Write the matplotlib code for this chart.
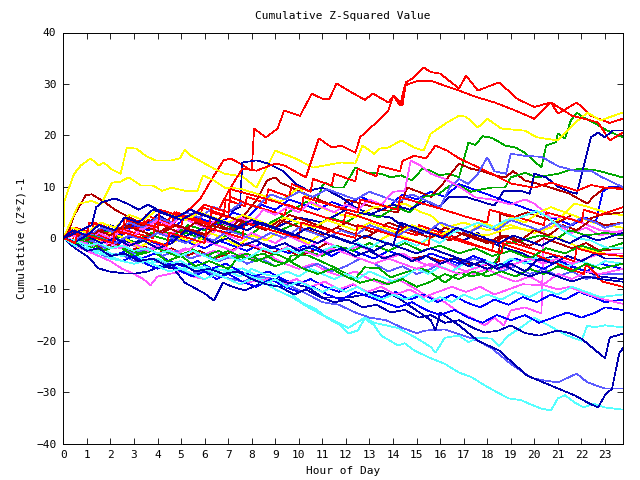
import matplotlib
matplotlib.use("Agg")
import matplotlib.pyplot as plt

# ---- colours (gnuplot-like palette) ----
RED = '#ff0000'
DRED = '#b00000'
GREEN = '#00a800'
BLUE = '#0000ff'
NAVY = '#0000b0'
LBLUE = '#5a5aff'
MAG = '#ff55ff'
CYAN = '#55ffff'
YEL = '#ffff00'

# ---- axis text ----
title = "Cumulative Z-Squared Value"
xlabel = "Hour of Day"
ylabel = "Cumulative (Z*Z)-1"
xticks = list(range(0, 24))
yticks = [-40, -30, -20, -10, 0, 10, 20, 30, 40]

# ---- series: (hour, cumulative value) ----
red_a = [(0,0),(0.5,1.5),(1,-0.5),(1.6,1.5),(2.2,0.5),(2.8,2.5),(3.4,1.5),(4,3.5),(4.6,2.5),(5.2,5),(5.8,7.5),
         (6.35,11.8),(6.8,15.1),(7.1,15.5),(7.5,14.5),(8.0,13.1),(8.1,21.3),(8.6,19.6),(9.1,21.3),(9.37,24.8),
         (10.05,23.8),(10.55,28.1),(11,27.1),(11.3,27.1),(11.6,30.1),(12.1,28.7),(12.8,26.9),(13.15,28.1),
         (13.8,26.4),(14.05,27.7),(14.4,25.8),(14.55,30.3),(14.9,31.3),(15.3,33.2),(15.6,32.3),(16.0,32.0),
         (16.8,29.1),(17.1,31.6),(17.6,28.7),(18.5,30.3),(19.3,27.0),(20.0,25.5),(20.7,26.4),(21.0,24.2),
         (21.8,26.4),(22.4,23.8),(23.2,22.4),(23.75,23.2)]
red_b = [(0,0),(0.6,-1),(1.2,1),(1.8,0),(2.4,2),(3,1),(3.6,3.5),(4.2,2.5),(4.8,5),(5.4,4),(6,6.5),(6.6,5.5),
         (7.0,9),(7.6,13.5),(8.2,13.1),(9.0,14.5),(9.4,14.1),(10.3,11.8),(10.85,19.4),(11.4,17.6),(11.8,18.0),
         (12.4,16.6),(12.6,19.6),(12.9,20.9),(13.4,22.9),(13.8,24.8),(14.0,27.7),(14.3,25.8),(14.5,29.7),
         (15.0,30.5),(15.6,30.6),(16.8,28.7),(17.5,27.5),(18.3,26.4),(19.2,24.8),(20.0,23.2),(20.7,26.4),
         (21.6,23.8),(22.7,22.5),(23.2,19.0),(23.75,20.5)]
red_c = [(0,0),(0.4,-0.8),(0.5,2),(1.2,1),(1.3,3),(2,1.8),(2.6,0.8),(2.7,3.5),(3.4,2.5),(3.5,4.5),(4.3,3),(5,2),
         (5.1,4.5),(5.8,3.5),(5.9,6),(6.8,4.5),(6.9,7.5),(7.7,6.2),(7.8,8),(8.6,6.8),(8.7,9.5),(9.6,8),(9.7,10.5),
         (10.5,9),(10.6,11.5),(11.4,10.2),(11.5,12.5),(12.4,11),(12.5,13.5),(13.3,12),(13.4,14),(14.3,13),
         (14.4,15),(14.9,16),(15.4,15.5),(15.8,18),(16.3,17),(16.8,15.5),(17.5,14),(18.2,12.5),(19,10.6),
         (20,9.8),(20.7,10.8),(21.8,9.2),(22.4,10.3),(23,9.8),(23.75,9.5)]
red_d = [(0,0),(0.6,-1),(0.7,1.5),(1.5,0.5),(2.2,-0.5),(2.3,2),(3,1),(3.8,0),(3.9,3),(4.6,2),(4.7,5),(5.5,3.8),
         (6.2,2.8),(6.3,6),(7,5),(7.1,8),(7.9,6.5),(8.6,5.5),(9.4,4.5),(9.5,6.5),(10.3,5.2),(11.1,4),(11.9,3),
         (12,5),(12.8,3.8),(13.6,2.5),(14.3,1.5),(15,0.5),(15.1,2.5),(15.9,1.2),(16.7,0),(17.4,-1.2),(18.2,-2.5),
         (18.3,-0.5),(19.1,-1.8),(19.9,-3),(20.7,-4.5),(21.4,-5.8),(22.1,-7),(22.2,-5),(22.9,-8.5),(23.75,-9.5)]
red_e = [(0,0),(0.3,1.5),(1,0.5),(1.1,3),(1.9,2),(2.5,1),(2.6,4),(3.3,3),(4,2),(4.1,5.5),(4.8,4.5),(5.5,3.5),
         (6.2,2.5),(6.3,5),(7,4),(7.1,9.5),(7.9,8.5),(8.7,7.5),(9.4,6.5),(10.1,5.5),(10.2,8),(10.9,7),(11.7,6),
         (12.5,5),(12.6,7.5),(13.4,6.5),(14.2,5.5),(14.3,8),(15,7),(15.8,6),(16.5,5),(17.2,4),(18,3),(18.1,5.5),
         (18.9,4.5),(19.7,3.5),(20.4,2.5),(20.5,5),(21.3,4),(22,3),(22.1,5.5),(22.8,4.5),(23.75,6)]
red_f = [(0,0),(0.5,-1),(0.6,1),(1.4,0),(2.1,-1),(2.2,1.5),(3,0.5),(3.7,-0.5),(4.4,-1.5),(4.5,1),(5.3,0),(6,-1),
         (6.1,2),(6.9,1),(7.6,0),(7.7,3),(8.5,2),(9.2,1),(10,0),(10.1,3),(10.9,2),(11.6,1),(12.4,0),(12.5,2.5),
         (13.3,1.5),(14,0.5),(14.8,-0.5),(15.5,-1.5),(15.6,1),(16.4,0),(17.1,-1),(17.9,-2),(18.6,-3),(18.7,-0.5),
         (19.5,-1.5),(20.2,-2.5),(21,-3.5),(21.7,-4.5),(21.8,-2),(22.6,-3),(23.75,-3.5)]
dred_a = [(0,0),(0.2,1),(0.46,4.4),(0.95,8.3),(1.2,8.5),(1.65,7.3),(2.2,5.5),(2.8,4),(3.4,2.8),(4,1.5),(4.1,3.5),
          (4.8,2.5),(5.5,1.5),(6.2,0.5),(6.3,2.5),(7,1.5),(7.6,4),(8.2,7.3),(8.65,11.2),(9,11.8),(9.2,10.8),
          (9.7,9.8),(10.4,8.3),(11.25,6.7),(11.9,5.5),(12,7.5),(12.8,6.5),(13.5,5.5),(14.2,5),(14.6,9.8),
          (15.1,9),(15.6,8),(16.2,11),(16.8,14.5),(17.3,13.5),(17.8,13),(18.3,12.2),(18.75,11.8),(19.1,13),
          (19.6,11.2),(20.1,10.6),(20.7,9.8),(21.5,8.6),(22.25,6.7),(22.5,8),(23,9.8),(23.75,9.8)]
dred_b = [(0,0),(0.5,-1),(1,-0.5),(1.6,-2),(2.2,-1),(2.8,-2.5),(3.4,-1.5),(4,-3),(4.6,-2),(5.2,-3.5),(5.8,-2.5),
          (6.4,-4),(7,-3),(7.6,-1),(8.2,-2),(8.8,-3),(9.4,-2),(10,-3.5),(10.6,-2.5),(11.2,-1),(11.8,-2),
          (12.4,-3.5),(13,-2.5),(13.6,-4),(14.2,-3),(14.8,-4),(15.4,-3.5),(16,-4.5),(16.6,-4),(17.2,-5),
          (17.8,-5.4),(18.5,-4.5),(18.55,4.7),(19.1,4),(19.7,5),(20.3,4),(21,3),(21.6,4.5),(22.2,3.5),
          (22.8,4.5),(23.75,5)]
dred_c = [(0,0),(0.6,1),(1.2,0),(1.8,2),(2.4,1),(3,3),(3.6,2),(4.2,1),(4.8,2.5),(5.4,1.5),(6,0.5),(6.6,2.5),
          (7.2,1.5),(7.8,4),(8.4,3),(9,2),(9.6,4.5),(10.2,3.5),(10.8,2.5),(11.4,1.5),(12,3),(12.6,2),(13.2,1),
          (13.8,3),(14.4,2),(15,1),(15.6,0),(16.2,2),(16.8,1),(17.4,0),(18,-1),(18.6,0.5),(19.2,-0.5),
          (19.8,-1.5),(20.4,0),(21,-1),(21.6,-2),(22.2,-1),(22.8,-2.5),(23.75,-2)]
dred_d = [(0,0),(0.5,0.8),(1,-0.5),(1.5,1.5),(2,0.5),(2.6,2.5),(3.2,1.5),(3.8,0.5),(4.4,2),(5,1),(5.6,3),(6.2,2),
          (6.8,4.5),(7.4,3.5),(8,2.5),(8.6,1.5),(9.2,3.5),(9.8,2.5),(10.4,1.5),(11,0.5),(11.6,2),(12.2,1),
          (12.8,0),(13.4,1.5),(14,0.5),(14.6,2.5),(15.2,1.5),(15.8,0.5),(16.4,-0.5),(17,1),(17.6,0),(18.2,-1),
          (18.8,0.5),(19.4,-0.5),(20,1.5),(20.6,0.5),(21.2,2.5),(21.8,1.5),(22.4,3.5),(23,2.5),(23.75,3)]
yel_a = [(0,0),(0.05,7.3),(0.46,12.5),(0.74,14.1),(1.16,15.5),(1.5,14.1),(1.72,14.7),(2.0,13.5),(2.43,12.5),
         (2.7,17.6),(3.1,17.4),(3.5,16.0),(3.9,15.1),(4.6,15.1),(4.95,15.5),(5.16,17.2),(5.43,16.0),(6.0,14.5),
         (6.4,13.5),(6.85,12.5),(7.6,12.0),(8.2,9.8),(9.0,17.0),(9.85,15.5),(10.6,13.7),(11.8,14.7),(12.4,14.5),
         (12.7,18.0),(13.2,16.4),(13.4,17.4),(13.8,17.6),(14.35,19.0),(14.9,17.6),(15.3,17.0),(15.6,20.3),
         (16.3,22.5),(16.8,23.8),(17.1,23.6),(17.6,21.5),(18.0,23.2),(18.6,21.3),(19.6,20.9),(20.1,19.6),
         (21.0,19.0),(21.7,22.3),(22.25,24.4),(22.8,22.9),(23.75,24.4)]
yel_b = [(0,0),(0.67,6.7),(1.2,7.2),(1.6,6.5),(2.07,10.8),(2.4,10.9),(2.78,11.8),(3.3,10.2),(3.8,10.2),(4.2,9.2),
         (4.6,9.8),(5.16,9.2),(5.7,9.2),(5.93,12.2),(6.4,11.2),(6.85,9.8),(7.5,9.6),(8.45,8.3),(9.2,7.0),
         (10.0,9.8),(10.6,6.5),(11.2,5.5),(11.8,4.5),(12.4,4.0),(13.2,6),(14.5,6.7),(15.2,5),(15.6,4.4),(16.2,2),
         (17,3),(18,1.5),(19,2.5),(20,1),(20.7,2),(21.7,6.7),(22.2,6.2),(23,5),(23.75,4.4)]
yel_c = [(0,0),(0.5,-1),(1,0.5),(1.5,-0.5),(2,1),(2.6,0),(3.2,-1.8),(3.8,-0.5),(4.4,-1.5),(5,0),(5.6,-1),(6.2,1),
         (6.8,0),(7.4,-1.5),(8,0.5),(8.6,-0.5),(9.2,1.5),(9.8,0.5),(10.4,-1),(11,1),(11.6,0),(12.2,-1),(12.8,0.5),
         (13.4,-0.5),(14,1),(14.6,0),(15.2,-1),(15.8,0.5),(16.4,-0.5),(17,1),(18,0.5),(19,2),(20,1.5),(21,0),
         (22,-2),(23,-3),(23.75,-3.7)]
yel_d = [(0,0),(0.4,2),(1,1),(1.6,3),(2.2,2),(2.8,4.5),(3.4,3.5),(4,5.5),(4.6,4.5),(5.2,3.5),(5.8,5),(6.4,4),(7,3),
         (7.6,4.5),(8.2,3.5),(8.8,2.5),(9.4,4),(10,3),(10.6,2),(11.2,3.5),(11.8,2.5),(12.4,1.5),(13,3),(13.6,2),
         (14.2,1),(14.8,2.5),(15.4,1.5),(16,0.5),(16.6,2),(17.2,1),(17.8,3),(18.4,2),(19,4),(19.6,3),(20.2,5),
         (20.7,6),(21.3,5),(21.9,4),(22.5,3),(23,2.5),(23.75,2)]
grn_a = [(0,0),(0.7,-1.5),(1.3,0.5),(2,-1),(2.6,1),(3.3,0),(4,1.5),(4.7,0.5),(5.3,2.5),(6,1.5),(6.6,3),(7.2,2),
         (8,3.5),(8.6,2.5),(9.2,4),(9.7,5.4),(10.3,7.0),(10.7,6.5),(11,10.2),(11.1,10.8),(11.5,9.8),(11.9,9.8),
         (12.4,13.7),(12.9,12.7),(13.5,12.5),(13.9,11.8),(14.35,12.2),(14.8,11.2),(15.25,13.5),(15.6,13.1),
         (15.95,12.2),(16.4,12.5),(16.8,11.8),(17.2,18.6),(17.5,18.1),(17.8,19.8),(18.2,19.5),(18.75,18.0),
         (19.2,17.6),(19.6,16.6),(20.3,13.7),(20.5,18.0),(20.9,18.6),(21.0,20.3),(21.3,19.4),(21.55,22.9),
         (21.8,24.4),(22.1,23.4),(22.5,22.5),(23.1,20.9),(23.75,19.6)]
grn_b = [(0,0),(0.6,1),(1.2,-0.5),(1.9,1.5),(2.5,0),(3.2,-1),(3.8,0.5),(4.5,-0.5),(5.2,1),(5.8,0),(6.5,-1),
         (7.2,1.5),(7.9,0.5),(8.5,2.5),(9.2,1.5),(10,3),(10.7,2),(11.3,4),(12,3),(12.7,5),(13.4,4),(14.1,6),
         (14.7,5),(15.3,8),(15.95,8.6),(16.4,10.2),(16.8,10.2),(17.3,9),(17.8,9.5),(18.2,9.8),(18.75,9.8),
         (19.0,11.8),(19.6,12.7),(20.1,11.8),(21.0,12.5),(21.4,13.1),(22.0,13.5),(22.7,13.1),(23.75,11.8)]
grn_c = [(0,0),(0.8,-1),(1.6,-2.5),(2.4,-1.5),(3.2,-3),(4,-2),(4.8,-3.5),(5.5,-2.5),(6.3,-4),(7,-2.5),(7.7,-4),
         (8.5,-3),(9.0,-4.5),(9.4,-5),(9.7,-3.4),(10.4,-3.4),(11.5,-5.7),(12.4,-7.9),(12.8,-5.7),(13.4,-5.9),
         (13.9,-7.7),(14.5,-6.7),(15.2,-5.9),(15.6,-6.7),(16.2,-8.7),(16.8,-6.7),(17.3,-7.5),(17.8,-7),
         (18.2,-5.9),(18.75,-1.1),(19.5,-0.5),(20.2,0.5),(21,0),(21.5,1.5),(22.2,0.5),(23,1),(23.75,0.5)]
grn_d = [(0,0),(0.5,-1.5),(1,-0.5),(1.7,-2.5),(2.3,-1.5),(3,-3.5),(3.8,-2.5),(4.4,-4.5),(5,-3.5),(5.6,-5.5),
         (6.2,-4.5),(7,-6),(7.5,-3.5),(8.2,-4.5),(9,-3),(9.7,-4.5),(10.3,-2.5),(11,-3.5),(11.6,-1.5),(12.3,-2.5),
         (13,-1),(13.8,-2.5),(14.5,-1),(15.2,-2.5),(16,-1.5),(16.8,-3),(17.5,-2),(18.2,-3.5),(19,-2.5),
         (19.8,-4),(20.5,-2),(21.3,-3),(22,-1.5),(22.7,-2.5),(23.75,-1)]
grn_e = [(0,0),(0.6,-1),(1.2,0.5),(1.8,-0.5),(2.4,-2),(3,-1),(3.6,-2.5),(4.2,-1.5),(4.8,-3),(5.4,-2),(6,-3.5),
         (6.6,-2.5),(7.2,-4),(7.8,-3),(8.4,-4.5),(9,-5.5),(9.6,-4.5),(10.2,-6),(10.8,-7),(11.4,-6),(12,-7.5),
         (12.6,-8.7),(13.2,-8),(13.8,-9),(14.4,-8),(15,-9.5),(15.6,-8.5),(16.2,-7),(16.8,-8),(17.4,-6.5),
         (18,-7.5),(18.6,-6.5),(19.2,-7.5),(19.8,-6),(20.4,-7),(21,-5.5),(21.6,-6.5),(22.2,-5),(22.8,-6),(23.75,-5)]
navy_a = [(0,0),(0.5,-1),(1,1),(1.5,0),(2,2.5),(2.5,1.5),(3,3.5),(3.5,2.5),(4,4.5),(4.6,3),(5.2,5),(5.8,4),
          (6.4,6),(7,5),(7.5,6),(7.6,14.7),(8.2,15.1),(8.7,14.5),(9.3,13.1),(9.85,10.6),(10.4,9.2),(11,9.8),
          (11.8,7.9),(12.4,5.9),(13.2,4.4),(13.9,4),(14.5,2),(15.2,0.9),(15.8,2),(16.4,0.5),(17,-0.5),(17.6,1),
          (18.2,-1),(18.8,-2),(19.5,-3),(20.2,-4.5),(20.8,-3.5),(21.5,-5.5),(22.2,-6.5),(22.8,-7.5),(23.75,-8)]
navy_b = [(0,0),(1,-1.5),(2,0),(3,-1),(4,1),(5,0),(6,2),(7,1),(8,3),(9,2),(10,4),(11,3),(12,5.5),(13,4.5),
          (14,6.5),(14.7,5.5),(15.4,7.3),(15.9,5.8),(16.4,8),(17.1,8),(17.8,7),(18.3,6.3),(18.7,9.2),(19.4,9.2),
          (19.8,8.6),(20,12.5),(20.5,11.8),(21,10),(21.5,9),(21.8,8.6),(22.4,19.6),(22.7,20.5),(23,19.6),
          (23.3,20.9),(23.75,20.9)]
navy_c = [(0,0),(0.5,-2),(1,-3.5),(1.5,-5.9),(1.93,-6.5),(2.6,-6.9),(3.1,-6.9),(3.6,-6.5),(4.1,-5.5),(4.67,-5.9),
          (5.16,-8.7),(6.0,-10.8),(6.4,-12.2),(6.77,-8.7),(7.2,-9.5),(7.7,-10.2),(8.3,-9),(9,-7.9),(9.6,-8.8),
          (10.4,-9.6),(11,-11.6),(12.1,-11.6),(12.8,-11),(13.5,-10.2),(14.2,-11.6),(14.9,-13.8),(15.6,-16),
          (15.8,-18),(16,-14.5),(16.8,-17),(17.6,-20),(18.5,-21.9),(19.2,-24.8),(19.7,-26.8),(21,-29.3),
          (21.7,-30.6),(22.25,-32),(22.7,-33),(23,-30.6),(23.3,-29.3),(23.6,-22.5),(23.75,-21.5)]
navy_d = [(0,0),(0.5,-1),(1,-2.5),(1.5,-2),(2,-3.5),(2.6,-3),(3.2,-4.5),(3.8,-4),(4.4,-5.5),(5,-5),(5.6,-6.5),
          (6.2,-6),(6.8,-7),(7.4,-6.5),(8,-8),(8.6,-9),(9.2,-9.5),(9.8,-11),(10.3,-10),(10.9,-11.5),(11.5,-12.5),
          (12.1,-12),(12.7,-13.5),(13.3,-13),(13.9,-14.5),(14.5,-14),(15.1,-15.5),(15.6,-15),(16.2,-16.5),
          (16.8,-16),(17.4,-17.5),(17.9,-18.4),(18.5,-18),(19,-17),(19.6,-18.5),(20.2,-19),(21,-18),(21.5,-18.5),
          (22,-19.6),(22.5,-21.5),(23,-23.4),(23.2,-19.4),(23.75,-18.6)]
navy_e = [(0,0),(0.5,-0.8),(1,0.5),(1.6,-1),(2.2,0),(2.8,-1.5),(3.4,-0.5),(4,-2),(4.6,-1),(5.2,1.5),(5.8,0.5),
          (6.4,-1),(7,0),(7.6,-1.5),(8.2,-0.5),(8.8,-2),(9.4,-1),(10,-2.5),(10.6,-1.5),(11.2,-3),(11.8,-2),
          (12.4,-3.5),(13,-2.5),(13.6,-4),(14.2,-3),(14.8,-4.5),(15.4,-3.5),(16,-5),(16.6,-4),(17.2,-5.5),
          (17.8,-4.5),(18.4,-6),(19,-5),(19.6,-6.5),(20.2,-4),(20.8,-5),(21.4,-3.5),(22,-4.5),(22.6,-3),(23,-4),
          (23.75,-4)]
navy_f = [(0,0),(0.4,1.5),(1,0.5),(1.5,2.5),(2.2,1.5),(2.6,4),(3.2,3),(3.8,5.5),(4.4,4.5),(5,3.5),(5.6,5),(6.2,4),
          (6.8,3),(7.4,2),(8,3.5),(8.6,2.5),(9.2,1.5),(9.8,0.5),(10.4,2),(11,1),(11.6,0),(12.2,-1),(12.8,0.5),
          (13.4,-0.5),(14,-1.5),(14.3,3),(14.9,2),(15.5,1),(16.1,0),(16.7,2),(17.3,1),(17.9,0),(18.5,-1),
          (19.1,0.5),(19.7,-0.5),(20.3,-1.5),(20.9,0),(21.5,-1),(22.1,0.5),(22.7,-0.5),(23.75,1)]
navy_g = [(0,0),(0.5,1),(1.2,2.5),(1.4,6),(1.65,7),(2.2,7.7),(2.8,6.5),(3.2,5.5),(3.6,6.5),(4.2,5),(4.8,4),
          (5.4,5.5),(6,4.5),(6.6,3.5),(7.2,2.5),(7.8,1.5),(8.4,3),(9,2),(9.6,1),(10.2,0),(10.8,-1),(11.4,0.5),
          (12,-0.5),(12.6,-1.5),(13.2,-2.5),(13.8,-1),(14.4,-2),(15,-3),(15.6,-2),(16.2,-3),(16.8,-4),(17.4,-5),
          (18,-6),(18.6,-5),(19.2,-6.5),(19.8,-7.5),(20.4,-6.5),(21,-7.5),(21.6,-8.5),(22.2,-7.5),(22.8,-8),
          (23.75,-8.5)]
blue_a = [(0,0),(0.6,1),(1.2,-0.5),(1.8,1.5),(2.4,0.5),(3,2.5),(3.6,1.5),(4.2,3.5),(4.8,2.5),(5.4,4.5),(6,3.5),
          (6.6,2.5),(7.2,5),(7.8,4),(8.4,6.5),(9,5.5),(9.6,7.5),(10.2,6.5),(10.8,5.5),(11.4,7),(12,6),(12.6,8),
          (13.2,7),(13.8,6),(14.4,8.5),(15,7.5),(15.6,9),(16.2,8),(16.8,10.5),(17.4,9.5),(18,8.5),(18.6,7.5),
          (19.2,6.5),(19.8,5.5),(20.4,4.5),(21,3.5),(21.6,2.5),(22.2,4),(22.6,3),(22.9,9),(23.2,10),(23.75,10)]
blue_b = [(0,0),(0.5,-1.5),(1,-1),(1.5,-2.5),(2.1,-3.5),(2.7,-2.5),(3.3,-4),(3.9,-3),(4.5,-4.5),(5.1,-5.5),
          (5.7,-4.5),(6.3,-6),(6.9,-5),(7.5,-6.5),(8.1,-7.5),(8.7,-6.5),(9.3,-8),(9.9,-9),(10.5,-8),(11.1,-9.5),
          (11.7,-10.5),(12.3,-9),(12.9,-10.5),(13.5,-11.5),(14.1,-10.5),(14.7,-12),(15.3,-11),(15.9,-12.5),
          (16.5,-11),(17.1,-12.5),(17.7,-13.5),(18.3,-12),(18.9,-13),(19.5,-11.5),(20.1,-12.5),(20.7,-11),
          (21.3,-12),(21.9,-10.5),(22.5,-11.5),(23,-12.5),(23.75,-12)]
blue_c = [(0,0),(0.6,-0.5),(1.2,1),(1.8,0),(2.4,-1),(3,0.5),(3.6,-0.5),(4.2,-1.5),(4.8,0),(5.4,-1),(6,-2),
          (6.6,-0.5),(7.2,-1.5),(7.8,-2.5),(8.4,-1),(9,-2),(9.6,-3),(10.2,-1.5),(10.8,-2.5),(11.4,-3.5),(12,-2),
          (12.6,-3),(13.2,-4),(13.8,-2.5),(14.4,-3.5),(15,-4.5),(15.6,-3),(16.2,-4),(16.8,-5),(17.4,-3.5),
          (18,-4.5),(18.6,-5.5),(19.2,-4),(19.8,-5),(20.4,-6),(21,-4.5),(21.6,-5.5),(22.2,-6.5),(22.8,-5),(23.75,-6)]
blue_d = [(0,0),(0.5,-1),(1,-2.5),(1.5,-2),(2,-3.5),(2.5,-4.5),(3,-3.5),(3.5,-5),(4,-6),(4.5,-5),(5,-6.5),
          (5.5,-7.5),(6,-6.5),(6.5,-8),(7,-7),(7.6,-8.5),(8.2,-9.5),(8.8,-8),(9.4,-9.5),(10,-10.5),(10.6,-9.5),
          (11.2,-11),(11.8,-12),(12.4,-10.5),(13,-11.5),(13.6,-12.5),(14.2,-13.5),(14.8,-12.5),(15.4,-14),
          (16,-15),(16.6,-14),(17.2,-15.5),(17.8,-16.5),(18.4,-15),(19,-16),(19.6,-15),(20.2,-16.5),(20.8,-15.5),
          (21.4,-14.5),(22,-15.5),(22.6,-14.5),(23,-13.5),(23.75,-14)]
lb_a = [(0,0),(0.6,-1.5),(1.2,-2.5),(1.8,-3.5),(2.4,-3),(3,-4.5),(3.6,-5),(4.2,-4.5),(4.8,-6),(5.4,-7),(6,-6.5),
        (6.6,-7.5),(7.2,-8),(7.6,-8.5),(8.3,-7.5),(9,-8),(9.7,-9.5),(10.4,-11),(11,-12.5),(11.7,-13),(12.4,-14.5),
        (13,-15.5),(13.7,-16),(14.4,-17.5),(15,-18.5),(15.4,-18),(16.2,-17.8),(17,-19),(17.6,-20),(18.2,-21.5),
        (19,-24.5),(19.9,-27.3),(20.5,-27.8),(21,-28.1),(21.8,-26.4),(22.25,-28.1),(23,-29.3),(23.75,-29.3)]
lb_b = [(0,0),(0.6,-1.2),(1.2,-0.5),(1.8,-2),(2.4,-1.5),(3,-3),(3.6,-2),(4.2,-3.5),(4.8,-2.5),(5.4,-4),(6,-3),
        (6.6,-4.5),(7.2,-3.5),(7.8,-5),(8.4,-4),(9,-5.5),(9.6,-4.5),(10.2,-6),(10.8,-5),(11.4,-6.5),(12,-5.5),
        (12.6,-4),(13.2,-5),(13.8,-6.5),(14.4,-5.5),(15,-7),(15.6,-6),(16.2,-4.5),(16.8,-5.5),(17.4,-4),(18,-5),
        (18.6,-6.5),(19.2,-5.5),(19.8,-7),(20.4,-6),(21,-7.5),(21.6,-6.5),(22.2,-8),(22.8,-7),(23.75,-7)]
lb_c = [(0,0),(0.5,1),(1,0),(1.6,2),(2.2,1),(2.8,3),(3.4,2),(4,4),(4.6,3),(5.2,5),(5.8,4),(6.4,6),(7,5),(7.6,7),
        (8.2,6),(8.8,8.5),(9.4,7.5),(10,9),(10.6,8),(11.2,9.5),(11.8,8.5),(12.4,7.5),(13,9),(13.6,8),(14.2,7),
        (14.8,8.5),(15.4,7.3),(16,6),(16.4,9.8),(16.8,11.5),(17.2,10.5),(17.6,12.5),(18,15.7),(18.3,13),
        (18.8,12.5),(19,16.4),(19.6,16),(20.3,15.8),(21,14),(21.7,13.1),(22.4,13.1),(22.8,12),(23.75,9.9)]
lb_d = [(0,0),(0.5,-0.5),(1,1),(1.6,0),(2.2,-1),(2.8,0.5),(3.4,-0.5),(4,1),(4.6,0),(5.2,-1),(5.8,0.5),(6.4,-0.5),
        (7,1.5),(7.6,0.5),(8.2,-0.5),(8.8,1),(9.4,0),(10,2),(10.6,1),(11.2,0),(11.8,1.5),(12.4,0.5),(13,2.5),
        (13.6,1.5),(14.2,0.5),(14.8,2),(15.4,1),(16,3),(16.6,2),(17.2,1),(17.8,2.5),(18.4,1.5),(19,3.5),
        (19.6,2.5),(20.2,1.5),(20.8,3),(21.4,2),(22,4),(22.6,3),(23,2),(23.75,3)]
mag_a = [(0,0),(0.5,-1),(1,0.5),(1.6,-0.5),(2.2,-2),(2.8,-1),(3.4,-2.5),(4,-1.5),(4.6,-3),(5.2,-2),(5.8,-3.5),
         (6.4,-2.5),(7,-4),(7.6,-3),(8.2,-4.5),(8.8,-3.5),(9.4,-5),(10,-6),(10.6,-5),(11.2,-6.5),(11.8,-7.5),
         (12.4,-6.5),(13,-8),(13.6,-9),(14.2,-8),(14.8,-9.5),(15.4,-11.2),(16.2,-12.5),(16.8,-14.5),(17.3,-15.5),
         (17.9,-17),(18.3,-15.5),(18.7,-17),(19,-14.1),(19.6,-13.5),(20.3,-14.7),(20.4,1.8),(21,2.5),(21.6,1),
         (22.2,2),(22.8,0.5),(23.75,1.5)]
mag_b = [(0,0),(0.5,-1.5),(1,-2.5),(1.5,-3.5),(2,-4.5),(2.5,-6),(3,-7),(3.4,-8),(3.7,-9.2),(4,-7.5),(4.5,-7),
         (5,-6.5),(5.5,-7.5),(6,-8),(6.5,-7),(7,-8),(7.5,-9),(8,-8.5),(8.7,-8),(9.3,-9),(9.9,-8),(10.5,-9.5),
         (11.1,-8.5),(11.7,-10),(12.3,-9),(12.9,-10.5),(13.5,-9.5),(14.1,-11),(14.7,-10),(15.3,-11.5),
         (15.9,-10.5),(16.5,-9.5),(17.1,-10.5),(17.7,-9.5),(18.3,-11),(18.9,-10),(19.5,-9),(20.4,-9.2),(21,-10),
         (21.5,-9.5),(22,-10.5),(22.6,-11.5),(23,-12),(23.75,-12.8)]
mag_c = [(0,0),(0.5,1),(1,0),(1.5,1.5),(2,0.5),(2.5,2),(3,1),(3.5,2.5),(4,1.5),(4.5,0.5),(5,2),(5.5,1),(6,0),
         (6.5,1.5),(7,0.5),(7.5,-0.5),(8,1),(8.5,0),(9,-1),(9.5,0.5),(10,-0.5),(10.5,-1.5),(11,-0.5),(11.5,-1.5),
         (12,-2.5),(12.6,-1.5),(13.2,-3),(13.8,-4),(14.4,-3),(15,-4.5),(15.6,-5.5),(16.2,-4.5),(16.8,-6),(17.4,-7),
         (18,-6),(18.6,-7.5),(19.2,-8.5),(19.8,-7.5),(20.4,-9),(21,-7),(21.6,-8),(22.2,-6.5),(22.8,-7),(23.75,-6)]
mag_d = [(0,0),(0.5,0.5),(1,-0.5),(1.5,1),(2,0),(2.5,1.5),(3,0.5),(3.5,2),(4,3.5),(4.5,2.5),(5,4),(5.5,3),(6,2),
         (6.5,3.5),(7,2.5),(7.5,4),(8,3),(8.5,5.5),(9,4.5),(9.5,6),(10,5),(10.5,7),(11,6),(11.5,5),(12,6.5),
         (12.5,5.5),(13,7.5),(13.5,6.5),(14,9),(14.5,9.2),(14.75,15.1),(15.2,14),(15.6,12.5),(16.2,11.5),
         (16.8,10),(17.5,7.9),(18.2,7.5),(19,6.5),(19.6,7.5),(20,6.7),(20.7,4),(21.4,4),(22.1,2.8),(22.8,1.5),
         (23.75,1)]
mag_e = [(0,0),(0.6,-0.5),(1.2,-1.5),(1.8,-0.5),(2.4,-2),(3,-1),(3.6,-2.5),(4.2,-1.5),(4.8,-3),(5.4,-2),(6,-0.5),
         (6.6,-1.5),(7.2,-2.5),(7.8,-1),(8.4,-2),(9,-3),(9.6,-1.5),(10.2,-2.5),(10.8,-3.5),(11.4,-2),(12,-3),
         (12.6,-4),(13.2,-5),(13.8,-4),(14.4,-5),(15,-6),(15.6,-5),(16.2,-6),(16.8,-7),(17.4,-6),(18,-5),
         (18.6,-6),(19.2,-5),(19.8,-4),(20.4,-5),(21,-4),(21.6,-5),(22.2,-4),(22.8,-3),(23.75,-3)]
cyan_a = [(0,0),(0.5,-1.5),(1,-2.5),(1.5,-3),(2,-4),(2.5,-4.5),(3,-5),(3.5,-4.5),(4,-5.5),(4.5,-5),(5,-6),
          (5.5,-5.5),(6,-6.5),(6.5,-6),(7,-6.5),(7.6,-5.9),(8.3,-7.5),(9,-9.2),(9.6,-10.5),(10.1,-12.5),
          (10.7,-13.8),(11.25,-15.7),(11.7,-16.8),(12.1,-18.6),(12.5,-18),(12.8,-15.7),(13.2,-17),(13.5,-19),
          (14.2,-20.9),(14.5,-20.5),(14.9,-21.9),(15.6,-23.4),(16.2,-24.5),(16.8,-26.2),(17.3,-27),(17.9,-28.7),
          (18.4,-30),(18.9,-31.2),(19.45,-31.6),(19.9,-32.5),(20.3,-33.2),(20.7,-33.6),(21,-31.2),(21.3,-30.6),
          (21.7,-32),(22.1,-33),(22.5,-32.2),(23,-33),(23.75,-33.4)]
cyan_b = [(0,0),(0.5,-1),(1,-2),(1.5,-1.5),(2,-3),(2.5,-3.5),(3,-3),(3.5,-4.5),(4,-4),(4.5,-5),(5,-4.5),(5.5,-6),
          (6,-5.5),(6.5,-6.5),(7,-6),(7.6,-7),(8.3,-8),(9,-10),(9.7,-11.5),(10.4,-13.5),(11,-15),(11.7,-16.6),
          (12.1,-17.5),(12.8,-15.5),(13.2,-16.5),(14.2,-17.5),(15,-19.5),(15.6,-21.2),(15.8,-22.3),(16.2,-19.4),
          (16.8,-19),(17.2,-20.3),(17.6,-19.4),(18.2,-19.6),(18.5,-21),(18.9,-19),(19.4,-17.5),(20,-15.5),
          (20.6,-17),(21.4,-19),(22,-20),(22.25,-17),(22.5,-17.4),(23,-17),(23.75,-17.4)]
cyan_c = [(0,0),(0.5,-1),(1,-2),(1.5,-2.5),(2,-3.5),(2.5,-3),(3,-4),(3.5,-5),(4,-4.5),(4.5,-5.5),(5,-6.5),
          (5.5,-5.5),(6,-6),(6.5,-7),(7,-6.5),(7.5,-7.5),(8,-6),(8.5,-7),(9,-7.5),(9.5,-6.5),(10,-7.5),(10.5,-6),
          (11,-7),(11.5,-8),(12,-7),(12.5,-8),(13,-6.5),(13.5,-7.5),(14,-8.5),(14.5,-7.5),(15,-6),(15.5,-7),
          (16,-5.5),(16.5,-6.5),(17,-5),(17.5,-6),(18,-4.5),(18.5,-5.5),(19,-4),(19.6,-5),(20.2,-3.5),(20.8,-4.5),
          (21.4,-5.5),(22,-4.5),(22.6,-5.5),(23,-4.5),(23.75,-5)]
cyan_d = [(0,0),(0.5,-1.5),(1,-2),(1.5,-3),(2,-3.5),(2.5,-4.5),(3,-5),(3.5,-4.5),(4,-5.5),(4.5,-6.5),(5,-6),
          (5.5,-7),(6,-8),(6.5,-7),(7,-8),(7.5,-9),(8,-8),(8.5,-9),(9,-8),(9.5,-9.5),(10,-8.5),(10.5,-9.5),
          (11,-10.5),(11.5,-9.5),(12,-10.5),(12.5,-9.5),(13,-11),(13.5,-12),(14,-11),(14.5,-12),(15,-11),
          (15.5,-12.5),(16,-11.5),(16.5,-12.5),(17,-11),(17.5,-12),(18,-11),(18.6,-12),(19.2,-10.5),(19.8,-11.5),
          (20.4,-10),(21,-11),(21.6,-9.5),(22.2,-10.5),(22.8,-11.5),(23.75,-11)]
cyan_e = [(0,0),(0.5,-0.5),(1,-1.5),(1.5,-1),(2,-2),(2.5,-1.5),(3,-2.5),(3.5,-2),(4,-3),(4.5,-2.5),(5,-3.5),
          (5.5,-2.5),(6,-3.5),(6.5,-4.5),(7,-3.5),(7.5,-4.5),(8,-3.5),(8.5,-2),(9,-3),(9.5,-2),(10,-3),(10.5,-1.5),
          (11,-2.5),(11.5,-1.5),(12,-2.5),(12.5,-1),(13,-2),(13.5,-0.5),(14,-1.5),(14.5,-0.5),(15,-1.5),(15.5,0),
          (16,-1),(16.5,1),(17.1,2),(17.6,3),(18.2,2),(18.8,3.5),(19.4,4),(20.1,5.3),(20.6,4),(21.2,1.5),
          (21.8,0),(22.4,-0.5),(23,-1.8),(23.75,-2)]

series = [
    (red_a, RED), (grn_a, GREEN), (blue_a, BLUE), (mag_a, MAG), (cyan_a, CYAN), (yel_a, YEL),
    (dred_a, DRED), (navy_a, NAVY), (lb_a, LBLUE),
    (red_b, RED), (grn_b, GREEN), (blue_b, BLUE), (mag_b, MAG), (cyan_b, CYAN), (yel_b, YEL),
    (dred_b, DRED), (navy_b, NAVY), (lb_b, LBLUE),
    (red_c, RED), (grn_c, GREEN), (blue_c, BLUE), (mag_c, MAG), (cyan_c, CYAN), (yel_c, YEL),
    (dred_c, DRED), (navy_c, NAVY), (lb_c, LBLUE),
    (red_d, RED), (grn_d, GREEN), (blue_d, BLUE), (mag_d, MAG), (cyan_d, CYAN), (yel_d, YEL),
    (dred_d, DRED), (navy_d, NAVY), (lb_d, LBLUE),
    (red_e, RED), (grn_e, GREEN), (mag_e, MAG), (cyan_e, CYAN), (navy_e, NAVY),
    (red_f, RED), (navy_f, NAVY), (navy_g, NAVY),
]

FONT = 'DejaVu Sans Mono'
fig = plt.figure(figsize=(6.4, 4.8), dpi=100)
fig.patch.set_facecolor('white')
ax = fig.add_axes([63.3/640, 1 - 443.5/480, 559.4/640, 411/480])

for pts, col in series:
    hs = [p[0] for p in pts]
    vs = [p[1] for p in pts]
    ax.plot(hs, vs, color=col, linewidth=0.5, antialiased=False, solid_joinstyle='miter')

ax.set_xlim(0, 23.75)
ax.set_ylim(-40, 40)
ax.set_xticks(xticks)
ax.set_yticks(yticks)
ax.tick_params(direction='in', length=4, width=0.6, top=True, right=True,
               labelsize=8, pad=5, colors='black')
for lab in ax.get_xticklabels() + ax.get_yticklabels():
    lab.set_fontfamily(FONT)
for sp in ax.spines.values():
    sp.set_linewidth(0.7)
    sp.set_color('black')

fig.text(343/640, 1 - 16/480, title, ha='center', va='center', fontsize=8, family=FONT)
fig.text(343/640, 1 - 471/480, xlabel, ha='center', va='center', fontsize=8, family=FONT)
fig.text(22/640, 1 - 238/480, ylabel, ha='center', va='center', rotation=90, fontsize=8, family=FONT)

fig.savefig('out.png', dpi=100, facecolor='white')
